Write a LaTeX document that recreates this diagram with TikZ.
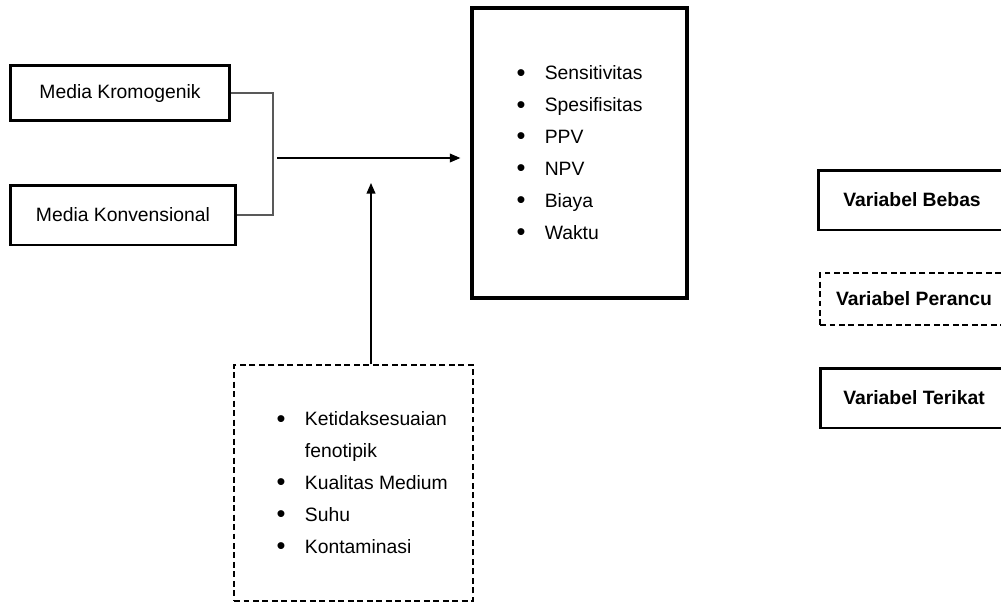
\documentclass[tikz,border=0pt]{standalone}
\usepackage{fontspec}
\setmainfont{Liberation Sans}
\usetikzlibrary{positioning, arrows.meta}
\tikzset{solidbox/.style={draw,line width=1.7pt,inner sep=0pt,font=\fontsize{11}{13}\selectfont},
         resultbox/.style={solidbox,line width=1.9pt},
         dashbox/.style={draw,line width=0.7pt,dash pattern=on 3.4pt off 2pt,inner sep=0pt,font=\fontsize{11}{13}\selectfont},
         legend/.style={font=\fontsize{11}{13}\selectfont\bfseries,minimum width=3.76cm},
         conn/.style={draw,line width=1.1pt,black!65},
         arr/.style={draw,line width=0.7pt,-{Triangle[length=6pt,width=5pt]}},
        }
\newcommand{\bul}{\raisebox{-0.9pt}{\fontsize{14.5}{14.5}\selectfont\textbullet}}
\newcommand{\bulletlist}[1]{\fontsize{11}{18.2}\selectfont
  \begin{tabular}{@{}c@{\hspace{11pt}}l@{}}#1\end{tabular}}

\begin{document}
\begin{tikzpicture}[x=0.02cm,y=-0.02cm]
        \useasboundingbox (0,0) rectangle (1001,603);

        \node[solidbox,minimum width=4.4cm,minimum height=1.1cm](kromo)at(120,93){Media Kromogenik};
        \node[solidbox,minimum width=4.52cm,minimum height=1.2cm](konv)at(123,215){Media Konvensional};

        \node[resultbox,minimum width=4.3cm,minimum height=5.8cm](hasil)at(579.5,153){\bulletlist{
            \bul & Sensitivitas\\
            \bul & Spesifisitas\\
            \bul & PPV\\
            \bul & NPV\\
            \bul & Biaya\\
            \bul & Waktu}};

        \node[dashbox,minimum width=4.78cm,minimum height=4.72cm](perancu)at(353.5,483){\hspace*{10pt}\bulletlist{
            \bul & Ketidaksesuaian\\
                 & fenotipik\\
            \bul & Kualitas Medium\\
            \bul & Suhu\\
            \bul & Kontaminasi}};

        % bracket and arrows
        \coordinate(brk)at(273,158);
        \coordinate(start)at(277,158);
        \coordinate(up)at(371,183);
        \path[conn](kromo.east)-|(brk)|-(konv.east);
        \draw[arr, shorten >=0.2cm](start)--(start -| hasil.west);
        \draw[arr](up |- perancu.north)--(up);

        % legend
        \node[solidbox,legend,minimum height=1.2cm](bebas)at(912,200){Variabel Bebas};
        \node[dashbox,legend,minimum height=1.04cm](lperancu)at(914,299){Variabel Perancu};
        \node[solidbox,legend,minimum height=1.2cm](terikat)at(914,398){Variabel Terikat};
    \end{tikzpicture}
\end{document}
